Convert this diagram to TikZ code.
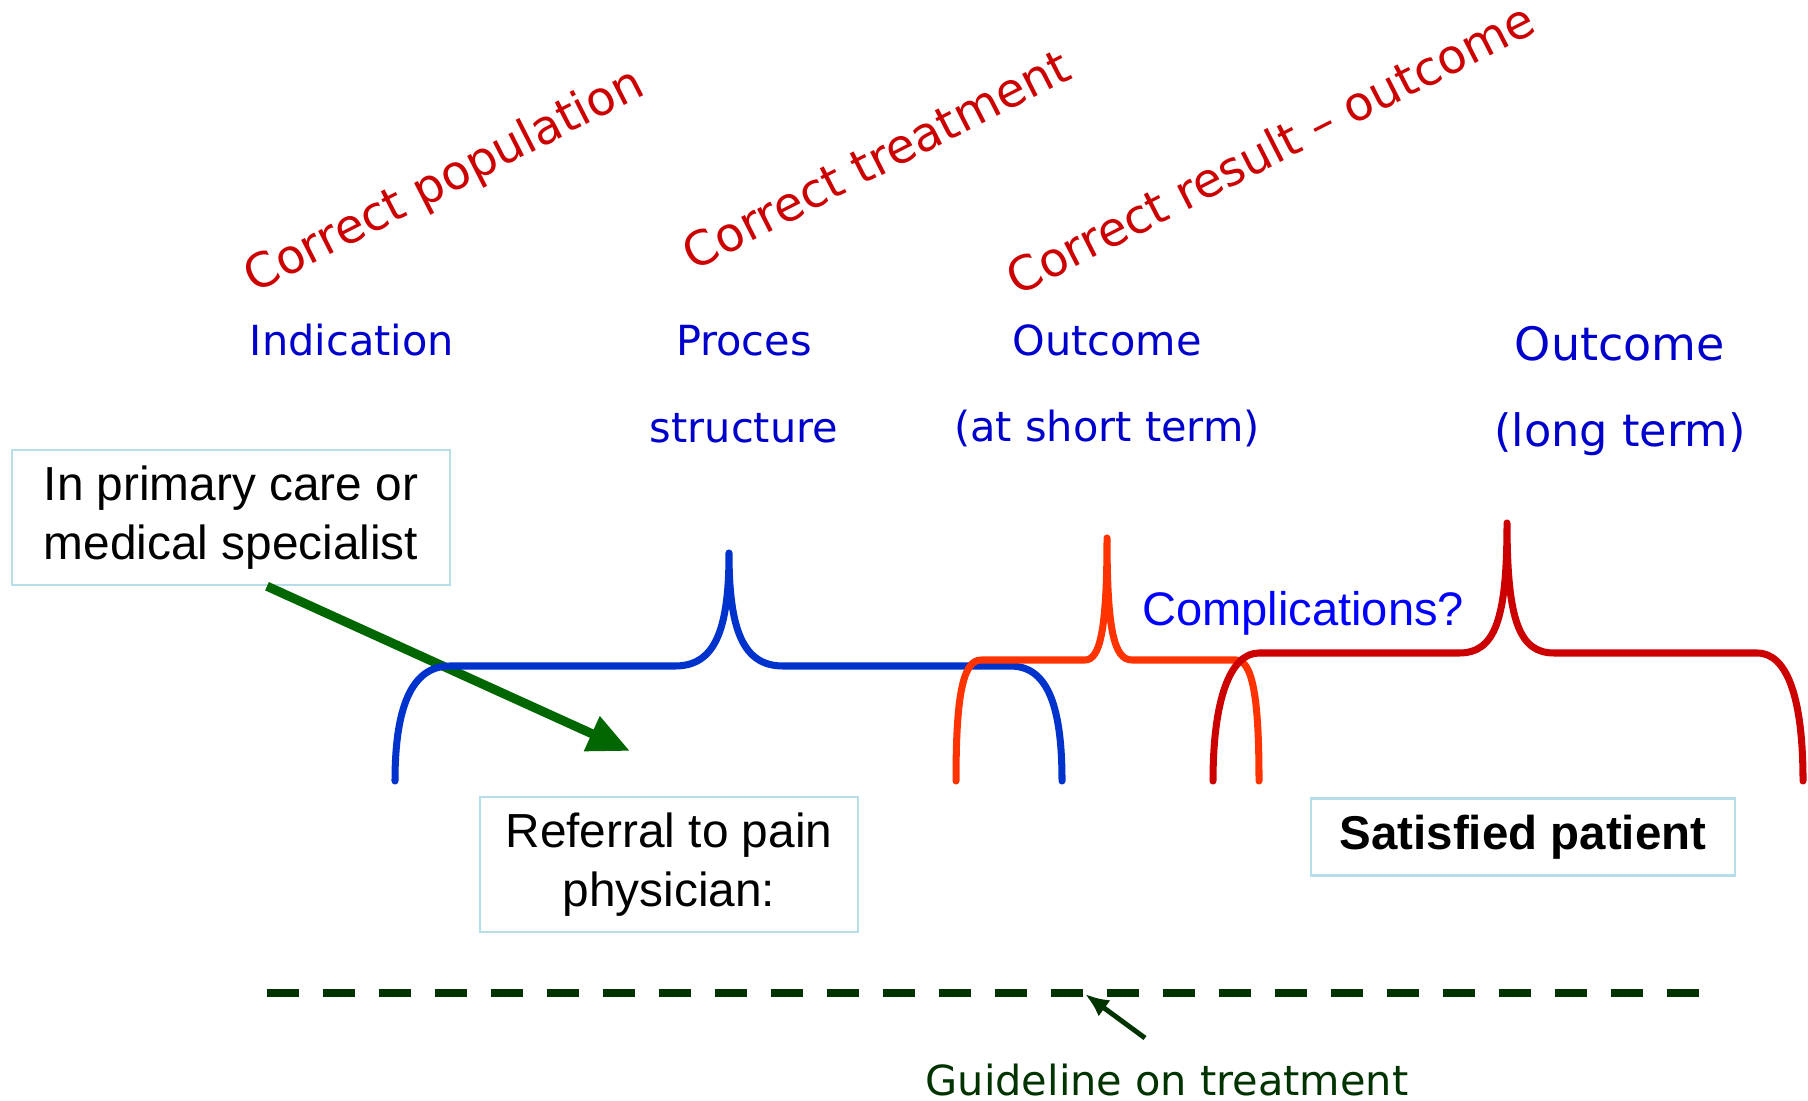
\documentclass[tikz,border=0pt]{standalone}
\usepackage{fontspec}
\setmainfont{DejaVu Sans}
\newfontfamily\arialfont{Liberation Sans}
\usetikzlibrary{arrows.meta}
\definecolor{aimred}{HTML}{CC0000}
\definecolor{stageblue}{HTML}{0000CC}
\definecolor{complblue}{HTML}{0000FF}
\definecolor{boxcyan}{HTML}{B7DDE8}
\definecolor{braceblue}{HTML}{0033CC}
\definecolor{braceorange}{HTML}{FF3300}
\definecolor{bracered}{HTML}{CC0000}
\definecolor{refgreen}{HTML}{006600}
\definecolor{guidegreen}{HTML}{003300}

\begin{document}
\begin{tikzpicture}[
    box/.style = {draw=boxcyan, line width=0.7pt, align=center, inner sep=0pt, font=\arialfont\fontsize{13.6}{16.6}\selectfont},
    aim/.style = {text=aimred, rotate=27, font=\fontsize{13.5}{16}\selectfont},
    stage/.style = {text=stageblue, anchor=base, font=\fontsize{11.8}{14}\selectfont},
    brace/.style = {line width=2pt, line cap=round, line join=round}]
    \useasboundingbox (0,0) rectangle (18.08,-11.01);

    % aims
    \node[aim] (pop) at (4.45,-1.82) {Correct population};
    \node[aim] (treat) at (8.76,-1.59) {Correct treatment};
    \node[aim] (result) at (12.70,-1.48) {Correct result -- outcome};

    % stages
    \node[stage] (ind) at (3.52,-3.56) {Indication};
    \node[stage] (proc) at (7.44,-3.56) {Proces};
    \node[stage] (struct) at (7.44,-4.43) {structure};
    \node[stage] (out1) at (11.07,-3.56) {Outcome};
    \node[stage] (short) at (11.07,-4.42) {(at short term)};
    \node[stage, font=\fontsize{13.1}{15}\selectfont] (out2) at (16.20,-3.61) {Outcome};
    \node[stage, font=\fontsize{12.7}{15}\selectfont] (long) at (16.20,-4.47) {(long term)};
    \node[anchor=base, text=complblue, font=\arialfont\fontsize{13.4}{16}\selectfont] (compl) at (13.03,-6.25) {Complications?};

    % boxes
    \node[box, minimum width=4.38cm, minimum height=1.35cm] (primary) at (2.31,-5.175) {In primary care or\\medical specialist};
    \node[box, minimum width=3.78cm, minimum height=1.35cm] (referral) at (6.69,-8.645) {Referral to pain\\physician:};
    \node[box, minimum width=4.24cm, minimum height=0.77cm, font=\arialfont\bfseries\fontsize{13.5}{16}\selectfont] (satisfied) at (15.23,-8.37) {Satisfied patient};

    \coordinate (refend) at (6.30,-7.51);
    \draw[refgreen, line width=2.6pt, -{Triangle[length=0.42cm, width=0.36cm]}] ([xshift=0.36cm]primary.south) -- (refend);

    % braces
    \draw[brace, braceblue] (3.95,-7.81) .. controls (3.95,-7.0) and (4.15,-6.66) .. (4.50,-6.66) -- (6.75,-6.66)
        .. controls (7.15,-6.66) and (7.29,-6.3) .. (7.29,-5.53)
        .. controls (7.29,-6.3) and (7.43,-6.66) .. (7.83,-6.66) -- (10.10,-6.66)
        .. controls (10.45,-6.66) and (10.62,-7.0) .. (10.62,-7.81);
    \draw[brace, braceorange] (9.56,-7.81) .. controls (9.56,-7.0) and (9.62,-6.60) .. (9.81,-6.60) -- (10.85,-6.60)
        .. controls (11.0,-6.60) and (11.07,-6.3) .. (11.07,-5.38)
        .. controls (11.07,-6.3) and (11.14,-6.60) .. (11.32,-6.60) -- (12.36,-6.60)
        .. controls (12.53,-6.60) and (12.59,-7.0) .. (12.59,-7.81);
    \draw[brace, bracered] (12.13,-7.81) .. controls (12.13,-7.0) and (12.30,-6.53) .. (12.59,-6.53) -- (14.59,-6.53)
        .. controls (14.95,-6.53) and (15.07,-6.2) .. (15.07,-5.23)
        .. controls (15.07,-6.2) and (15.19,-6.53) .. (15.54,-6.53) -- (17.57,-6.53)
        .. controls (17.88,-6.53) and (18.03,-7.0) .. (18.03,-7.81);

    % guideline
    \coordinate (gl-l) at (2.67,-9.93);
    \coordinate (gl-r) at (17.01,-9.93);
    \coordinate (gl-hit) at (10.85,-9.94);
    \draw[guidegreen, line width=2.4pt, dash pattern=on 0.32cm off 0.24cm] (gl-l) -- (gl-r);
    \node[anchor=base, text=guidegreen, font=\fontsize{11.8}{14}\selectfont] (guide) at (11.67,-10.95) {Guideline on treatment};
    \coordinate (gl-tail) at (11.45,-10.38);
    \draw[guidegreen, line width=1.4pt, -{Latex[length=0.24cm, width=0.2cm]}] (gl-tail) -- (gl-hit);
\end{tikzpicture}
\end{document}
